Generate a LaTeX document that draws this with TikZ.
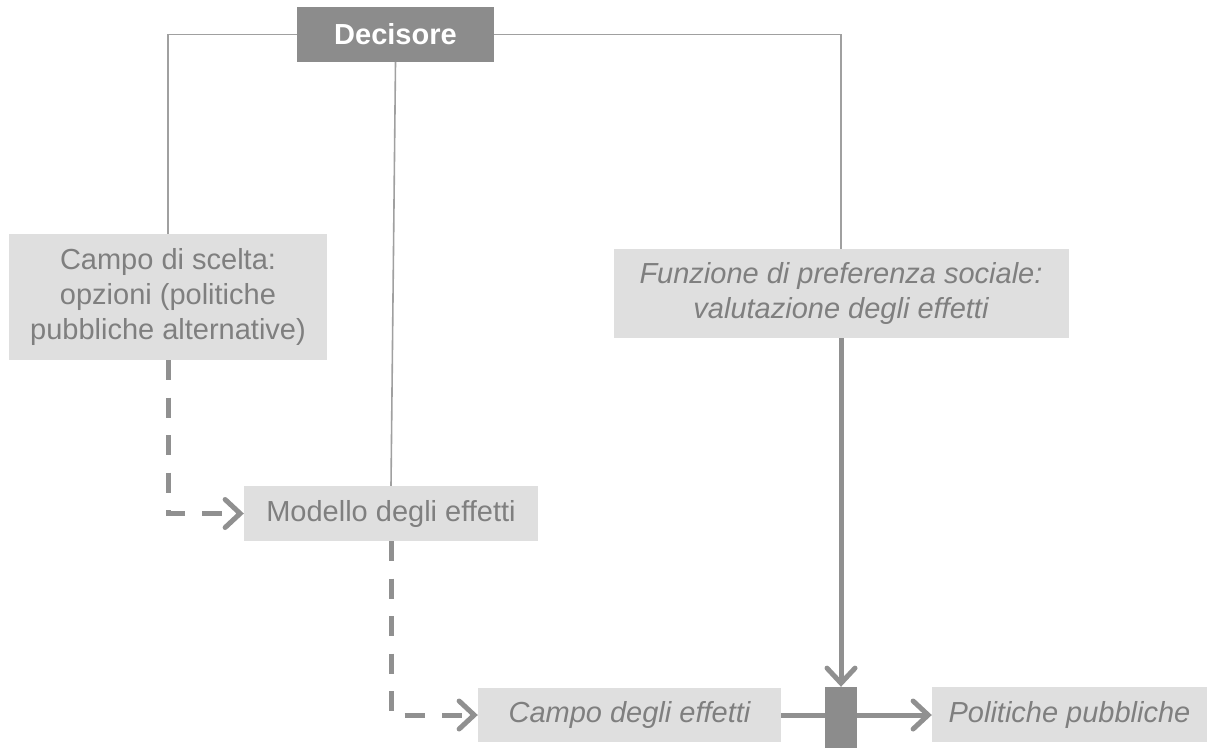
\documentclass[tikz,border=0pt]{standalone}
\usepackage{fontspec}
\setmainfont{Liberation Sans}
\usetikzlibrary{arrows.meta}

\definecolor{boxfill}{HTML}{DFDFDF}
\definecolor{boxtext}{HTML}{7F7F7F}
\definecolor{darkfill}{HTML}{8C8C8C}
\definecolor{linkline}{HTML}{909090}
\definecolor{thinline}{HTML}{A0A0A0}

\tikzset{
  every node/.style={font=\fontsize{29}{35}\selectfont},
  item/.style={rectangle, fill=boxfill, text=boxtext, inner sep=0pt, align=center},
  head/.style={rectangle, fill=darkfill, text=white, inner sep=0pt, font=\fontsize{29}{35}\selectfont\bfseries},
  junction/.style={rectangle, fill=darkfill, inner sep=0pt, minimum width=32pt, minimum height=70pt},
  tie/.style={draw=thinline, line width=1.6pt},
  flow/.style={draw=linkline, line width=5pt},
  tip/.style={-{Straight Barb[length=15pt,width=28pt,line cap=round]}},
  flowdash/.style={flow, dash pattern=on 20pt off 17.5pt},
}

\begin{document}
\begin{tikzpicture}[x=1pt, y=-1pt]
\useasboundingbox (0,0) rectangle (1210,747);

% boxes
\node[head, minimum width=197pt, minimum height=55pt] (dec) at (395.5,34.5) {Decisore};
\node[item, minimum width=318pt, minimum height=126pt] (cs) at (168,297)
  {Campo di scelta:\\opzioni (politiche\\pubbliche alternative)};
\node[item, minimum width=455pt, minimum height=89pt] (fp) at (841,293.5)
  {\itshape Funzione di preferenza sociale:\\\itshape valutazione degli effetti};
\node[item, minimum width=294pt, minimum height=55pt] (mod) at (391,513.5) {Modello degli effetti};
\node[item, minimum width=303pt, minimum height=54pt] (ce) at (629.5,715) {\itshape Campo degli effetti};
\node[item, minimum width=275pt, minimum height=55pt] (pp) at (1069.5,714.5) {\itshape Politiche pubbliche};
\node[junction] (j) at (841,722) {};

% thin links from the decision maker
\draw[tie] (cs.north) |- (dec.west);
\draw[tie] (dec.east) -| (fp.north);
\draw[tie] (dec.south) -- (mod.north);

% dashed flows
\draw[flowdash, tip] (cs.south) |- (mod.west);
\draw[flowdash, tip] (mod.south) |- (ce.west);

% solid flows
\draw[flow, tip] (fp.south) -- (j.north);
\draw[flow] (ce.east) -- (ce.east -| j.west);
\draw[flow, tip] (ce.east -| j.east) -- (ce.east -| pp.west);
\end{tikzpicture}
\end{document}
